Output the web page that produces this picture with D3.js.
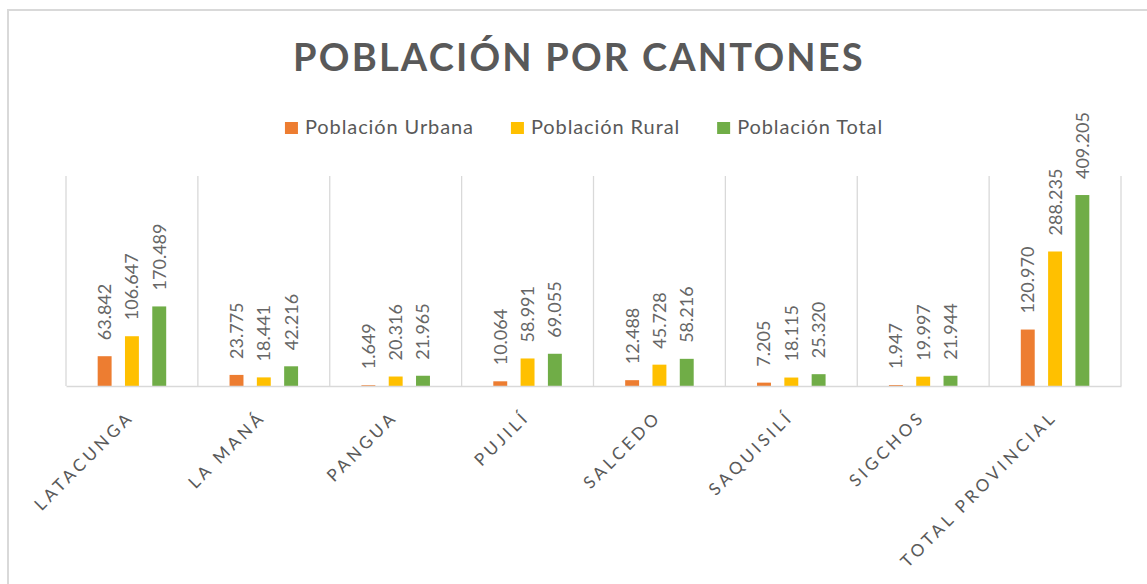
<!DOCTYPE html>
<html>
<head>
<meta charset="utf-8">
<script src="https://cdn.jsdelivr.net/npm/d3@7"></script>
<style>
  body { margin: 0; background: #fff; }
  text { font-family: Lato, "Open Sans", sans-serif; fill: #595959; }
</style>
</head>
<body>
<div id="chart"></div>
<script>
// Data
const cantones = ["LATACUNGA", "LA MANÁ", "PANGUA", "PUJILÍ", "SALCEDO", "SAQUISILÍ", "SIGCHOS", "TOTAL PROVINCIAL"];
const series = ["Población Urbana", "Población Rural", "Población Total"];
const urbana = [63842, 23775, 1649, 10064, 12488, 7205, 1947, 120970];
const rural = [106647, 18441, 20316, 58991, 45728, 18115, 19997, 288235];
const total = [170489, 42216, 21965, 69055, 58216, 25320, 21944, 409205];
const colors = ["#ED7D31", "#FFC000", "#70AD47"];

const W = 1147, H = 584;
const margin = { top: 176, right: 26, bottom: 198, left: 66 };
const width = W - margin.left - margin.right,
      height = H - margin.top - margin.bottom;

const fmt = d3.formatLocale({ decimal: ",", thousands: ".", grouping: [3], currency: ["$", ""] }).format(",d");

const svg = d3.select("#chart").append("svg")
    .attr("width", W)
    .attr("height", H);

// chart border
svg.append("rect")
    .attr("x", 8).attr("y", 10)
    .attr("width", W + 20).attr("height", H + 20)
    .attr("fill", "none")
    .attr("stroke", "#D9D9D9")
    .attr("stroke-width", 2);

// Title
svg.append("text")
    .attr("x", 579)
    .attr("y", 71)
    .attr("text-anchor", "middle")
    .style("font-size", "38px")
    .style("font-weight", "bold")
    .style("letter-spacing", "2.2px")
    .text("POBLACIÓN POR CANTONES");

// Legend
const legend = svg.append("g");
let lx = 0;
series.forEach((s, i) => {
    const item = legend.append("g").attr("transform", `translate(${lx},0)`);
    item.append("rect")
        .attr("x", 0).attr("y", 122)
        .attr("width", 13).attr("height", 12)
        .attr("fill", colors[i]);
    const t = item.append("text")
        .attr("x", 20).attr("y", 134)
        .style("font-size", "20px")
        .style("letter-spacing", "0.9px")
        .text(s);
    lx += 20 + t.node().getComputedTextLength() + 37;
});
const legW = lx - 37;
legend.attr("transform", `translate(${584 - legW / 2},0)`);

const g = svg.append("g")
    .attr("transform", `translate(${margin.left},${margin.top})`);

const x = d3.scaleBand()
    .domain(cantones)
    .range([0, width]);

const xs = d3.scaleBand()
    .domain(series)
    .range([0, x.bandwidth()])
    .paddingInner(0.49)
    .paddingOuter(1.16);

const y = d3.scaleLinear()
    .domain([0, 450000])
    .range([height, 0]);

// vertical gridlines between categories
const bounds = cantones.map(c => x(c)).concat([width]);
g.selectAll(".grid")
    .data(bounds)
    .enter().append("line")
    .attr("x1", d => d).attr("x2", d => d)
    .attr("y1", 0).attr("y2", height)
    .attr("stroke", "#D9D9D9")
    .attr("stroke-width", 1.3);

// bars
const rows = cantones.map((c, i) => ({
    canton: c,
    values: [urbana[i], rural[i], total[i]]
}));

const groups = g.selectAll(".cat")
    .data(rows)
    .enter().append("g")
    .attr("transform", d => `translate(${x(d.canton)},0)`);

groups.selectAll("rect")
    .data(d => d.values.map((v, j) => ({ s: series[j], v: v, j: j })))
    .enter().append("rect")
    .attr("x", d => xs(d.s))
    .attr("y", d => y(d.v))
    .attr("width", xs.bandwidth())
    .attr("height", d => height - y(d.v))
    .attr("fill", d => colors[d.j]);

// data labels
groups.selectAll(".lbl")
    .data(d => d.values.map((v, j) => ({ s: series[j], v: v, j: j })))
    .enter().append("text")
    .attr("transform", d => `translate(${xs(d.s) + xs.bandwidth() / 2},${y(d.v) - 16}) rotate(-90)`)
    .attr("dy", "0.36em")
    .style("font-size", "18px")
    .style("fill", "#666")
    .text(d => fmt(d.v));

// x axis
const xAxis = g.append("g")
    .attr("transform", `translate(0,${height})`)
    .call(d3.axisBottom(x).tickSize(0).tickSizeOuter(0));

xAxis.select(".domain")
    .attr("stroke", "#D9D9D9")
    .attr("stroke-width", 1.5);

xAxis.selectAll("text")
    .attr("y", 0).attr("x", 0).attr("dy", 0)
    .attr("transform", "translate(3,32) rotate(-45)")
    .attr("text-anchor", "end")
    .style("font-family", "Lato, sans-serif")
    .style("fill", "#595959")
    .style("font-size", "17px")
    .style("letter-spacing", "3.6px");
</script>
</body>
</html>
